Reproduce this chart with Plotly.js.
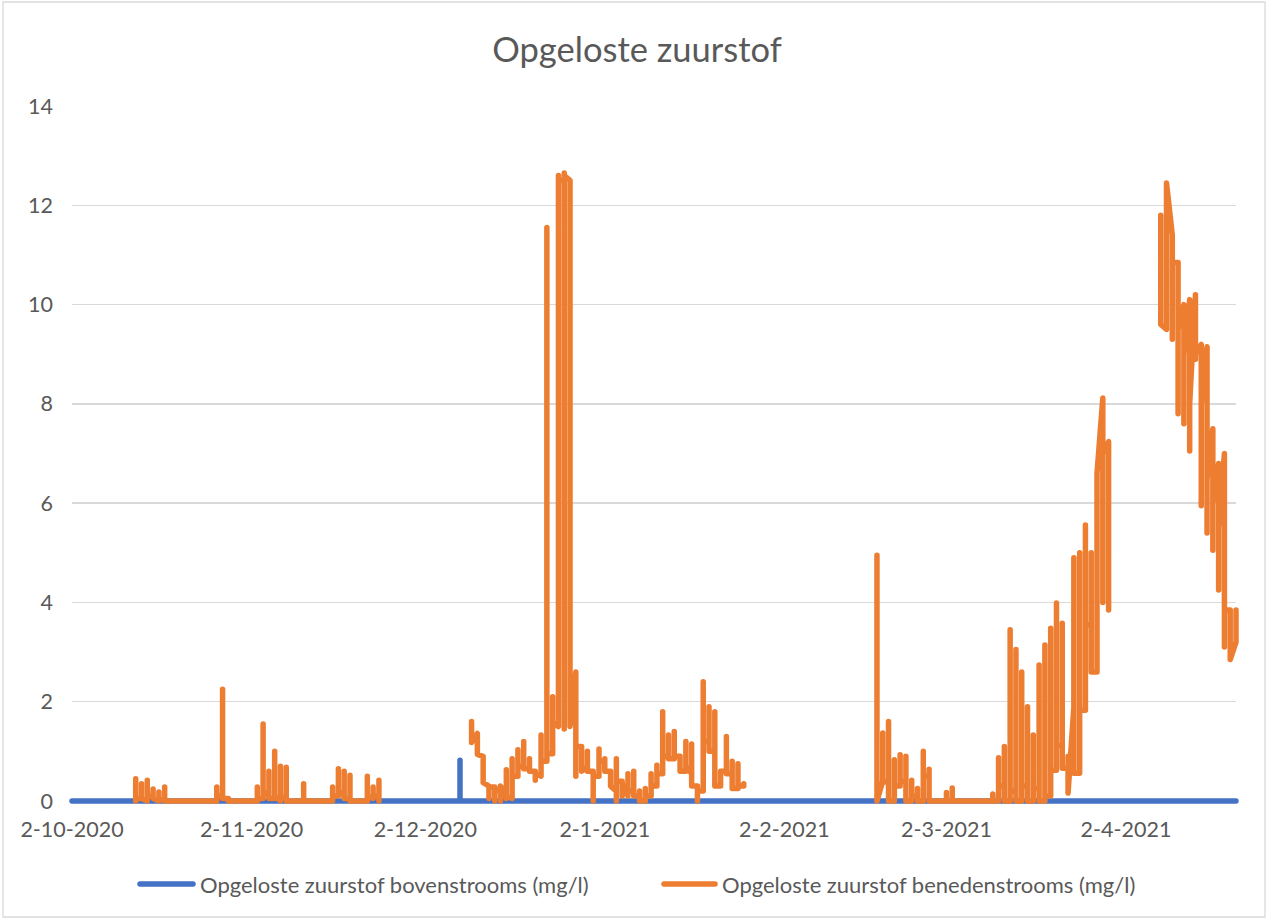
<!DOCTYPE html>
<html>
<head>
<meta charset="utf-8">
<script src="https://cdn.plot.ly/plotly-3.0.1.min.js"></script>
<style>
  html, body { margin: 0; padding: 0; background: #ffffff; }
  #chart { width: 1268px; height: 920px; }
</style>
</head>
<body>
<div id="chart"></div>
<script>
// ---- Data ----
const chartTitle = "Opgeloste zuurstof";
const seriesNames = ["Opgeloste zuurstof bovenstrooms (mg/l)", "Opgeloste zuurstof benedenstrooms (mg/l)"];
const seriesColors = ["#4472C4", "#ED7D31"];

// Bovenstrooms: flat at 0 with one spike
const bovenDatums  = ["2020-10-02", "2020-12-08", "2020-12-08", "2020-12-08", "2021-04-21"];
const bovenWaarden = [0, 0, 0.82, 0, 0];

// Benedenstrooms: several readings per day (Excel date axis stacks them on one day)
const benedenDagen = [
  "2020-10-13","2020-10-14","2020-10-15","2020-10-16","2020-10-17","2020-10-18",
  "2020-10-26","2020-10-27","2020-10-28","2020-10-29",
  "2020-11-02","2020-11-03","2020-11-04","2020-11-05","2020-11-06","2020-11-07","2020-11-08",
  "2020-11-10","2020-11-11","2020-11-15","2020-11-16","2020-11-17","2020-11-18","2020-11-19",
  "2020-11-21","2020-11-22","2020-11-23","2020-11-24",
  "2020-12-01",
  "2020-12-10","2020-12-11","2020-12-12","2020-12-13","2020-12-14","2020-12-15","2020-12-16",
  "2020-12-17","2020-12-18","2020-12-19","2020-12-20","2020-12-21","2020-12-22","2020-12-23",
  "2020-12-24","2020-12-25","2020-12-26","2020-12-27","2020-12-28","2020-12-29","2020-12-30",
  "2020-12-31","2021-01-01","2021-01-02","2021-01-03","2021-01-04","2021-01-05","2021-01-06",
  "2021-01-07","2021-01-08","2021-01-09","2021-01-10","2021-01-11","2021-01-12","2021-01-13",
  "2021-01-14","2021-01-15","2021-01-16","2021-01-17","2021-01-18","2021-01-19","2021-01-20",
  "2021-01-21","2021-01-22","2021-01-23","2021-01-24","2021-01-25","2021-01-26",
  "2021-02-01",
  "2021-02-18","2021-02-19","2021-02-20","2021-02-21","2021-02-22","2021-02-23","2021-02-24",
  "2021-02-25","2021-02-26","2021-02-27","2021-03-01","2021-03-02","2021-03-03","2021-03-09",
  "2021-03-10","2021-03-11","2021-03-12","2021-03-13","2021-03-14","2021-03-15","2021-03-16",
  "2021-03-17","2021-03-18","2021-03-19","2021-03-20","2021-03-21","2021-03-22","2021-03-23",
  "2021-03-24","2021-03-25","2021-03-26","2021-03-27","2021-03-28","2021-03-29","2021-03-30",
  "2021-04-04",
  "2021-04-08","2021-04-09","2021-04-10","2021-04-11","2021-04-12","2021-04-13","2021-04-14",
  "2021-04-15","2021-04-16","2021-04-17","2021-04-18","2021-04-19","2021-04-20","2021-04-21"
];
const benedenWaarden = [
  [0,0.45,0.05],[0.05,0.35,0.05],[0,0.42,0.1],[0.1,0.24,0.05],[0,0.18,0.05],[0,0.28,0],
  [0],[0,0.28,0.1],[0.1,2.25,0.05],[0.05,0],
  [0],[0,0.28,0.05],[0.05,1.55,0.2],[0.1,0.6,0.05],[0.05,1.0,0.1],[0,0.7,0.1],[0.05,0.68,0],
  [0],[0,0.35,0],[0],[0,0.28,0.1],[0.1,0.65,0.2],[0.1,0.6,0.05],[0.05,0.52,0],
  [0],[0,0.5,0.1],[0.05,0.28,0.1],[0.1,0.42,0],
  [null],
  [1.6,1.18],[1.36,0.94],[0.9,0.85,0.37],[0.3,0.05,0.28],[0.28,0,0.25],[0.2,0,0.3],[0.05,0.63,0.1],
  [0.05,0.85,0.5],[0.5,1.03,0.7],[0.7,1.2,0.65],[0.65,0.85,0.6],[0.6,0.42,0.55],[0.5,1.33,0.8],[0.8,11.55,0.95],
  [0.95,2.1,1.6],[1.5,12.6,1.9,12.5],[12.5,1.45,12.65,1.6,12.6],[12.5,1.5],[2.6,0.5,1.1],[1.1,0.85,0.6],[0.7,1.0,0.6],
  [0.6,0,0.5],[0.5,1.05,0.8],[0.8,0.85,0.6],[0.6,0.5,0.3],[0.2,0.85,0,0.4],[0.4,0.1,0.35],[0.1,0.55,0.2],
  [0.2,0.6,0.1],[0.1,0.2,0],[0,0.25,0.1],[0.1,0.55,0.3],[0.3,0.72,0.55],[0.55,1.8,0.9],[0.9,1.33,0.85],
  [0.85,1.4,0.9],[0.9,0.85,0.6],[0.6,1.2,0.7],[0.55,1.15,0.3],[0.3,0,0.2],[0.2,2.4,1.2],[1.2,1.9,1.0],
  [1.0,1.8,0.3],[0.3,0.6],[0.6,1.3,0.55],[0.55,0.8,0.25],[0.25,0.75,0.3],[0.3,0.35],
  [null],
  [0,4.95,0],[0.4,1.37,0.38],[0.4,1.6,0],[0,0.83,0.3],[0.3,0.93,0.4],[0.4,0.9,0],[0,0.42,0.1],
  [0.1,0.25,0],[0,1.0,0.5],[0.5,0.64,0],[0],[0,0.17,0],[0,0.26,0],[0],
  [0,0.14,0],[0,0.87,0.3],[0.3,1.1,0],[0,3.45,0.2],[0.2,3.05,0],[0,2.6,0.3],[0.3,1.9,0],
  [0,1.33,0.25],[0.25,2.74,0],[0,3.14,0.1],[0.1,3.48,0.62],[0.62,3.99,1.12],[1.12,3.58,0.66],[0.66,0.9,0.16],
  [1.9,4.9,0.56],[0.56,5.0,1.83],[1.83,5.56,3.55],[3.55,5.0,2.6],[2.6,6.03,3.9,6.6],[8.12,4.0,7.0],[7.24,3.85],
  [null],
  [11.8,9.6],[9.5,12.45],[11.4,9.3,10.85],[10.85,7.8,9.5],[10.0,7.6,9.0],[10.1,7.05,8.0],[10.2,8.9,9.0],
  [9.2,5.95,8.0],[9.15,5.4,6.5],[7.5,5.05,6.0],[6.8,4.25,5.5],[7.0,3.1,3.85],[3.85,2.85],[3.2,3.85,3.2]
];

// Axis ticks
const xTickDates  = ["2020-10-02","2020-11-02","2020-12-02","2021-01-02","2021-02-02","2021-03-02","2021-04-02"];
const xTickLabels = ["2-10-2020","2-11-2020","2-12-2020","2-1-2021","2-2-2021","2-3-2021","2-4-2021"];
const xRange = ["2020-10-02","2021-04-21"];
const yTicks = [0,2,4,6,8,10,12,14];

// ---- Build flat arrays for the benedenstrooms trace ----
const benedenX = [], benedenY = [];
benedenDagen.forEach((d, i) => {
  benedenWaarden[i].forEach(v => { benedenX.push(d); benedenY.push(v); });
});

const textColor = "#595959";
const fontFam = "Lato, 'Open Sans', sans-serif";

// plot-area geometry helpers (plot area spans x 72..1236, y 106..801)
const PL = 72, PW = 1164, PB = 801, PH = 695;
const px = v => (v - PL) / PW;
const py = v => (PB - v) / PH;

const traces = [
  {
    x: bovenDatums, y: bovenWaarden, name: seriesNames[0],
    type: "scatter", mode: "lines", cliponaxis: false,
    line: { color: seriesColors[0], width: 5.5 },
    hoverinfo: "skip", showlegend: false
  },
  {
    x: benedenX, y: benedenY, name: seriesNames[1],
    type: "scatter", mode: "lines", connectgaps: false, cliponaxis: false,
    line: { color: seriesColors[1], width: 5.5 },
    hoverinfo: "skip", showlegend: false
  }
];

const legendY = py(884);
const layout = {
  width: 1268, height: 920,
  paper_bgcolor: "#ffffff", plot_bgcolor: "#ffffff",
  margin: { l: 72, r: 32, t: 106, b: 119 },
  font: { family: fontFam, color: textColor, size: 22 },
  title: {
    text: chartTitle,
    font: { family: fontFam, size: 34.5, color: textColor },
    x: 637 / 1268, xanchor: "center", xref: "container",
    y: 1 - 50/920, yanchor: "middle", yref: "container"
  },
  xaxis: {
    type: "date", range: xRange,
    tickmode: "array", tickvals: xTickDates, ticktext: xTickLabels,
    showgrid: false, zeroline: false, showline: false, ticks: "",
    tickfont: { family: fontFam, size: 21.5, color: textColor },
    ticklabelstandoff: 13
  },
  yaxis: {
    range: [0, 14], tickmode: "array", tickvals: yTicks,
    showgrid: true, gridcolor: "#d9d9d9", gridwidth: 1.3,
    zeroline: false, showline: false, ticks: "",
    tickfont: { family: fontFam, size: 21.5, color: textColor },
    ticklabelstandoff: 18
  },
  showlegend: false,
  annotations: [
    { xref: "paper", yref: "paper", x: px(198), y: legendY, xanchor: "left", yanchor: "middle",
      text: seriesNames[0], showarrow: false,
      font: { family: fontFam, size: 22, color: textColor } },
    { xref: "paper", yref: "paper", x: px(720), y: legendY, xanchor: "left", yanchor: "middle",
      text: seriesNames[1], showarrow: false,
      font: { family: fontFam, size: 22, color: textColor } }
  ],
  shapes: [
    { type: "rect", xref: "paper", yref: "paper",
      x0: px(3), x1: px(1265), y0: py(917), y1: py(2),
      line: { color: "#d9d9d9", width: 1.3 }, fillcolor: "rgba(0,0,0,0)", layer: "below" },
    { type: "line", xref: "paper", yref: "paper",
      x0: px(140), x1: px(193), y0: legendY, y1: legendY,
      line: { color: seriesColors[0], width: 5.5 } },
    { type: "line", xref: "paper", yref: "paper",
      x0: px(664), x1: px(715), y0: legendY, y1: legendY,
      line: { color: seriesColors[1], width: 5.5 } }
  ]
};

Plotly.newPlot("chart", traces, layout, { staticPlot: true, displayModeBar: false }).then(() => {
  // Excel draws the full stroke at the axis edge and uses rounded caps/joins
  document.querySelectorAll("#chart .cartesianlayer [clip-path], #chart .cartesianlayer [style*='clip-path']").forEach(g => {
    g.removeAttribute("clip-path");
    g.style.clipPath = "none";
  });
  document.querySelectorAll(".scatterlayer .js-line, .shapelayer path").forEach(p => {
    p.style.strokeLinejoin = "round";
    p.style.strokeLinecap = "round";
  });
});
</script>
</body>
</html>
